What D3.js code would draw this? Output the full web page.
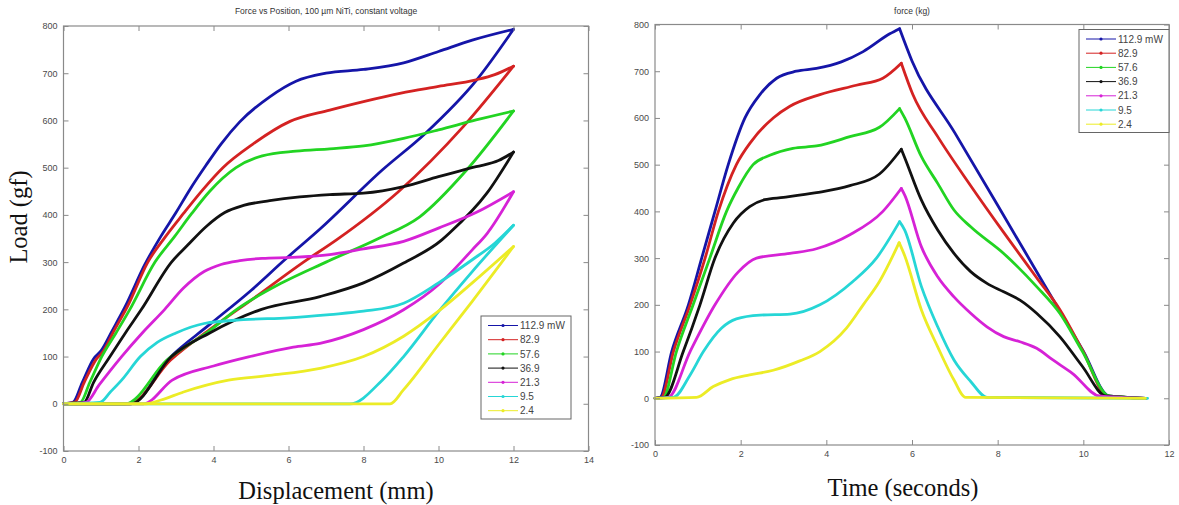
<!DOCTYPE html>
<html>
<head>
<meta charset="utf-8">
<script src="https://cdn.jsdelivr.net/npm/d3@7"></script>
<style>
  body { margin: 0; background: #fff; }
  svg { display: block; }
</style>
</head>
<body>
<svg id="chart" width="1179" height="505"></svg>
<script>
// ---- Data: NiTi wire actuator, constant-voltage runs ----
const seriesNames = ["112.9 mW", "82.9", "57.6", "36.9", "21.3", "9.5", "2.4"];

// Load (gf) vs displacement (mm): loading branch [mm, gf]
const blueLoading = [[0,0],[0.25,3],[0.5,45],[0.8,95],[1.0,112],[1.3,155],[1.64,205],[2.17,295],[2.6,355],[3.0,405],[3.38,455],[3.8,505],[4.2,550],[4.7,597],[5.5,650],[6.2,683],[7.0,700],[8.0,708],[9.07,722],[10.0,746],[10.9,770],[12,793]];
const redLoading = [[0,0],[0.3,3],[0.55,45],[0.88,95],[1.05,110],[1.35,155],[1.7,205],[2.25,300],[2.7,352],[3.2,403],[3.7,452],[4.25,500],[5.05,550],[6.04,598],[7.1,622],[8.0,640],[9.0,658],[10.0,672],[11.0,686],[11.5,697],[12,715]];
const greenLoading = [[0,0],[0.45,3],[0.7,45],[1.02,100],[1.4,150],[1.77,200],[2.44,300],[2.97,355],[3.42,403],[3.9,450],[4.6,500],[5.3,525],[6.2,535],[7.1,540],[8.0,546],[9.07,562],[10.0,580],[11.0,601],[12,620]];
const blackLoading = [[0,0],[0.55,3],[0.8,45],[1.24,100],[1.65,150],[2.08,200],[2.88,300],[3.3,335],[3.8,375],[4.3,405],[4.8,420],[5.5,430],[6.3,438],[7.1,443],[8.0,446],[9.07,460],[10.0,481],[11.0,502],[11.6,515],[12,533]];
const magentaLoading = [[0,0],[0.6,3],[0.95,40],[1.55,100],[2.1,150],[2.7,200],[3.2,245],[3.75,280],[4.2,295],[4.7,303],[5.3,308],[6.1,310],[7.1,316],[8.0,328],[9.07,344],[10.0,372],[11.0,405],[12,449]];
const cyanLoading = [[0,0],[0.97,3],[1.25,25],[1.55,50],[2.05,100],[2.5,130],[3.0,150],[3.75,170],[4.8,178],[6.0,182],[7.1,189],[8.0,196],[9.07,213],[10.0,256],[10.9,305],[11.5,340],[12,378]];
const yellowLoading = [[0,0],[2.2,0],[2.6,8],[3.2,25],[4.4,50],[5.5,60],[6.84,75],[8.0,100],[9.07,143],[10.0,196],[10.9,256],[12,333]];

// Load (gf) vs displacement (mm): unloading branch [mm, gf]
const blueUnloading = [[0,0],[1.8,0],[2.8,95],[3.9,168],[5.0,240],[5.9,305],[6.84,370],[8.5,495],[9.64,572],[11.02,686],[12,793]];
const redUnloading = [[0,0],[1.75,0],[2.85,92],[3.95,160],[5.1,225],[6.4,300],[7.28,347],[8.93,449],[10.66,587],[12,715]];
const greenUnloading = [[0,0],[1.65,0],[2.75,92],[3.9,155],[4.62,200],[5.8,255],[7.0,300],[8.4,350],[9.5,396],[10.75,495],[12,620]];
const blackUnloading = [[0,0],[1.8,0],[2.88,100],[3.9,150],[5.28,200],[6.84,227],[8.0,256],[9.07,298],[10.09,347],[10.3,362],[11.29,446],[12,533]];
const magentaUnloading = [[0,0],[2.13,0],[2.9,50],[4.0,80],[4.97,100],[6.13,120],[6.84,128],[8.0,157],[9.07,199],[10.0,252],[10.9,326],[11.29,360],[12,449]];
const cyanUnloading = [[0,0],[7.64,0],[8.5,50],[9.07,100],[10.0,195],[10.9,280],[12,378]];
const yellowUnloading = [[0,0],[8.71,0],[9.07,30],[10.0,125],[10.9,217],[12,333]];

// Load (gf) vs time (s) [s, gf]
const blueTime = [[0,0],[0.12,2],[0.39,100],[0.78,200],[1.09,300],[1.40,400],[1.71,500],[2.10,600],[2.45,650],[2.84,685],[3.3,700],[3.77,706],[4.35,720],[4.86,742],[5.48,780],[5.71,791],[6.0,722],[7.0,568],[8.0,413],[9.0,257],[10.0,101],[10.6,5],[11.45,0]];
const redTime = [[0,0],[0.15,2],[0.43,100],[0.82,200],[1.17,300],[1.48,400],[1.90,500],[2.25,550],[2.76,600],[3.15,625],[3.85,650],[4.7,670],[5.32,685],[5.75,717],[6.02,650],[6.6,560],[7.37,455],[8.14,355],[8.91,258],[9.45,190],[9.98,103],[10.56,5],[11.45,0]];
const greenTime = [[0,0],[0.2,2],[0.5,100],[0.89,200],[1.28,300],[1.67,400],[1.94,450],[2.29,500],[2.68,520],[3.22,535],[3.77,540],[4.55,560],[5.24,580],[5.71,620],[5.83,600],[6.22,517],[6.6,460],[6.98,403],[7.37,367],[8.14,310],[8.91,239],[9.45,182],[9.98,100],[10.6,5],[11.45,0]];
const blackTime = [[0,0],[0.23,2],[0.66,100],[1.05,200],[1.40,300],[1.83,375],[2.21,410],[2.56,425],[3.0,430],[3.77,440],[4.55,455],[5.24,480],[5.75,533],[5.83,515],[6.22,424],[6.6,360],[6.98,310],[7.37,271],[7.75,246],[8.14,228],[8.52,210],[8.91,182],[9.45,132],[9.98,68],[10.52,5],[11.45,0]];
const magentaTime = [[0,0],[0.31,2],[0.82,100],[1.40,200],[1.94,270],[2.37,300],[3.15,310],[3.77,320],[4.55,350],[5.32,400],[5.75,449],[5.83,435],[6.22,324],[6.6,260],[6.98,217],[7.37,182],[7.75,153],[8.14,132],[8.52,121],[8.91,107],[9.29,82],[9.75,53],[10.37,5],[11.45,0]];
const cyanTime = [[0,0],[0.43,2],[0.82,50],[1.13,100],[1.55,150],[1.90,170],[2.45,178],[3.15,180],[3.85,200],[4.62,250],[5.17,300],[5.71,378],[5.83,360],[6.22,239],[6.6,153],[6.98,82],[7.37,36],[7.75,2],[11.5,0]];
const yellowTime = [[0,0],[0.97,2],[1.36,25],[1.75,40],[2.21,50],[2.76,60],[3.38,80],[3.85,100],[4.47,150],[4.86,200],[5.24,250],[5.70,333],[5.83,305],[6.22,189],[6.6,110],[6.98,39],[7.25,2],[11.45,0]];

// Axis ticks
const dispTicks = [0, 2, 4, 6, 8, 10, 12, 14];
const timeTicks = [0, 2, 4, 6, 8, 10, 12];
const loadTicks = [-100, 0, 100, 200, 300, 400, 500, 600, 700, 800];

// ---- Styling ----
const lineColors = ["#1515a8", "#d42222", "#22d422", "#111111", "#d622d6", "#26d6d6", "#ecec26"];
const frameColor = "#8a8a8a";
const tickTextColor = "#4a4a4a";
const curveWidth = 2.8;

const series = seriesNames.map((name, i) => ({
  name,
  color: lineColors[i],
  loading: [blueLoading, redLoading, greenLoading, blackLoading, magentaLoading, cyanLoading, yellowLoading][i],
  unloading: [blueUnloading, redUnloading, greenUnloading, blackUnloading, magentaUnloading, cyanUnloading, yellowUnloading][i],
  time: [blueTime, redTime, greenTime, blackTime, magentaTime, cyanTime, yellowTime][i]
}));

const svg = d3.select("#chart");

function drawAxesFrame(g, x, y, xTicks) {
  const [xa, xb] = x.range();
  const [ya, yb] = y.range(); // ya bottom, yb top
  const fmt = d => String(d);

  const styleAxis = sel => {
    sel.select(".domain").remove();
    sel.selectAll(".tick line").attr("stroke", frameColor);
    sel.selectAll(".tick text")
      .attr("fill", tickTextColor)
      .style("font-family", "'Liberation Sans', Arial, sans-serif")
      .style("font-size", "9px");
  };

  g.append("g").attr("transform", `translate(0,${ya})`)
    .call(d3.axisBottom(x).tickValues(xTicks).tickSize(-5).tickPadding(6).tickFormat(fmt))
    .call(styleAxis);
  g.append("g").attr("transform", `translate(0,${yb})`)
    .call(d3.axisTop(x).tickValues(xTicks).tickSize(-5).tickFormat(""))
    .call(styleAxis);
  g.append("g").attr("transform", `translate(${xa},0)`)
    .call(d3.axisLeft(y).tickValues(loadTicks).tickSize(-5).tickPadding(6).tickFormat(fmt))
    .call(styleAxis);
  g.append("g").attr("transform", `translate(${xb},0)`)
    .call(d3.axisRight(y).tickValues(loadTicks).tickSize(-5).tickFormat(""))
    .call(styleAxis);

  g.append("rect")
    .attr("x", xa).attr("y", yb)
    .attr("width", xb - xa).attr("height", ya - yb)
    .attr("fill", "none").attr("stroke", frameColor).attr("stroke-width", 1.2);
}

function drawLegend(g, left, top) {
  const rowH = 14.2;
  const lg = g.append("g").attr("transform", `translate(${left},${top})`);
  lg.append("rect").attr("width", 90).attr("height", 103)
    .attr("fill", "#fff").attr("stroke", "#666").attr("stroke-width", 1);
  series.forEach((s, i) => {
    const yy = 9.5 + i * rowH;
    lg.append("line").attr("x1", 7).attr("x2", 37).attr("y1", yy).attr("y2", yy)
      .attr("stroke", s.color).attr("stroke-width", 1);
    lg.append("circle").attr("cx", 22).attr("cy", yy).attr("r", 1.6).attr("fill", s.color);
    lg.append("text").attr("x", 39).attr("y", yy + 3.6).text(s.name)
      .attr("fill", "#444")
      .style("font-family", "'Liberation Sans', Arial, sans-serif")
      .style("font-size", "10px");
  });
}

function titleText(g, x, y, text) {
  g.append("text").attr("x", x).attr("y", y).attr("text-anchor", "middle").text(text)
    .attr("fill", "#333")
    .style("font-family", "'Liberation Sans', Arial, sans-serif")
    .style("font-size", "8.5px");
}

function axisLabel(g, x, y, text, rotate) {
  const t = g.append("text").attr("text-anchor", "middle").text(text)
    .attr("fill", "#111")
    .style("font-family", "'Liberation Serif', 'Times New Roman', serif")
    .style("font-size", "24.5px");
  if (rotate) t.attr("transform", `translate(${x},${y}) rotate(-90)`);
  else t.attr("x", x).attr("y", y);
}

// ---- Left panel: load vs displacement ----
const xD = d3.scaleLinear().domain([0, 14]).range([63.5, 588.5]);
const yD = d3.scaleLinear().domain([-100, 800]).range([451, 26]);
const left = svg.append("g");
const lineD = d3.line().x(d => xD(d[0])).y(d => yD(d[1])).curve(d3.curveMonotoneX);

const curvesD = left.append("g")
  .attr("stroke-linejoin", "round").attr("stroke-linecap", "round").attr("fill", "none");
series.forEach(s => {
  curvesD.append("path").attr("d", lineD(s.loading)).attr("stroke", s.color).attr("stroke-width", curveWidth);
  curvesD.append("path").attr("d", lineD(s.unloading)).attr("stroke", s.color).attr("stroke-width", curveWidth);
});
drawAxesFrame(left, xD, yD, dispTicks);
drawLegend(left, 481, 316);
titleText(left, 326, 14, "Force vs Position, 100 µm NiTi, constant voltage");
axisLabel(left, 336, 499, "Displacement (mm)", false);
axisLabel(left, 27, 217, "Load (gf)", true);

// ---- Right panel: load vs time ----
const xT = d3.scaleLinear().domain([0, 12]).range([655, 1169]);
const yT = d3.scaleLinear().domain([-100, 800]).range([445, 24.5]);
const right = svg.append("g");
const lineT = d3.line().x(d => xT(d[0])).y(d => yT(d[1])).curve(d3.curveMonotoneX);

const curvesT = right.append("g")
  .attr("stroke-linejoin", "round").attr("stroke-linecap", "round").attr("fill", "none");
series.forEach(s => {
  // split at the peak so the turnaround stays a sharp corner
  const k = d3.maxIndex(s.time, d => d[1]);
  curvesT.append("path").attr("d", lineT(s.time.slice(0, k + 1))).attr("stroke", s.color).attr("stroke-width", curveWidth);
  curvesT.append("path").attr("d", lineT(s.time.slice(k))).attr("stroke", s.color).attr("stroke-width", curveWidth);
});
drawAxesFrame(right, xT, yT, timeTicks);
drawLegend(right, 1079, 29.5);
titleText(right, 912, 14, "force (kg)");
axisLabel(right, 903, 496, "Time (seconds)", false);
</script>
</body>
</html>
